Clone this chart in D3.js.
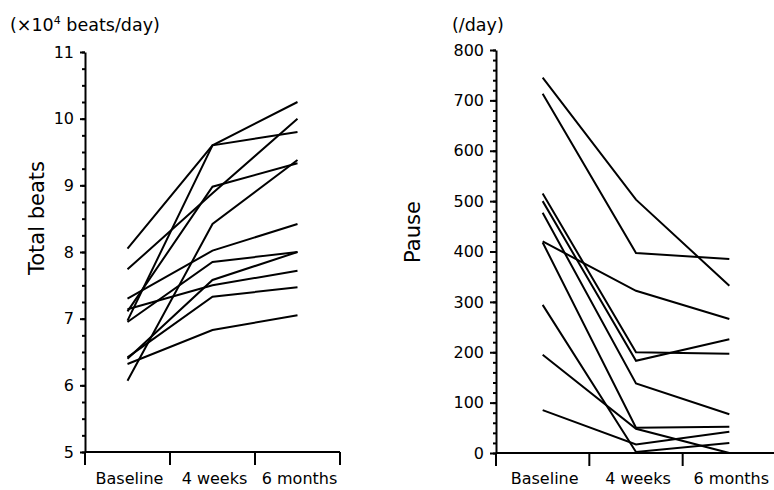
<!DOCTYPE html>
<html>
<head>
<meta charset="utf-8">
<script src="https://cdn.jsdelivr.net/npm/d3@7"></script>
<style>
  body { margin: 0; background: #fff; }
  svg { display: block; font-family: "DejaVu Sans", sans-serif; }
  .domain, .tick line { stroke: #000; stroke-width: 2; }
</style>
</head>
<body>
<div class="container"></div>
<script>
// time points shared by both panels
const timepoints = ["Baseline", "4 weeks", "6 months"];

// total beats (x10^4 beats/day), one entry per patient
const beatsBaseline = [6.32, 6.42, 6.40, 7.14, 6.95, 7.30, 8.05, 6.97, 7.74, 6.07, 7.11];
const beats4w = [6.83, 7.33, 7.58, 7.50, 7.85, 8.02, 9.60, 9.60, 8.88, 8.42, 8.98];
const beats6m = [7.05, 7.47, 8.00, 7.72, 8.00, 8.42, 10.25, 9.80, 10.00, 9.38, 9.33];
const beatsTicks = [5, 6, 7, 8, 9, 10, 11];

// pauses (/day), one entry per patient
const pauseBaseline = [745, 713, 420, 418, 515, 500, 477, 294, 195, 85];
const pause4w = [503, 397, 322, 50, 200, 183, 138, 2, 48, 17];
const pause6m = [332, 385, 266, 52, 197, 226, 77, 20, 0, 42];
const pauseTicks = [0, 100, 200, 300, 400, 500, 600, 700, 800];

const svg = d3.select(".container")
  .append("svg")
  .attr("width", 774)
  .attr("height", 490);

// build one panel: axes, labels and a polyline per patient
function panel(opts) {
  const x = d3.scaleBand().domain(timepoints).range(opts.xRange);
  const y = d3.scaleLinear().domain(opts.domain).range(opts.yRange);
  const y0 = opts.yRange[0];

  // minor ticks
  svg.append("g")
    .attr("transform", `translate(${opts.xRange[0]},0)`)
    .call(d3.axisLeft(y).tickValues(opts.minor).tickSize(3).tickFormat(""))
    .call((g) => g.select(".domain").remove());

  // major ticks + labels
  svg.append("g")
    .attr("transform", `translate(${opts.xRange[0]},0)`)
    .call(d3.axisLeft(y).tickValues(opts.ticks).tickFormat(d3.format("d"))
      .tickSize(opts.tickLen).tickSizeOuter(0).tickPadding(6))
    .call((g) => g.selectAll("text")
      .style("font-size", "16px")
      .style("font-family", "DejaVu Sans, sans-serif")
      .attr("fill", "#000"));

  // category axis: line along the bottom, ticks on band edges
  const edges = timepoints.map((t) => x(t)).concat([opts.xRange[1]]);
  svg.append("line")
    .attr("x1", opts.xRange[0]).attr("x2", opts.xEnd)
    .attr("y1", y0).attr("y2", y0)
    .attr("stroke", "#000").attr("stroke-width", 2);
  svg.selectAll(null)
    .data(edges)
    .enter()
    .append("line")
    .attr("x1", (d) => d).attr("x2", (d) => d)
    .attr("y1", y0).attr("y2", y0 + 13)
    .attr("stroke", "#000").attr("stroke-width", 2);

  svg.selectAll(null)
    .data(timepoints)
    .enter()
    .append("text")
    .attr("x", (d) => x(d) + x.bandwidth() / 2 + 2)
    .attr("y", 484)
    .attr("text-anchor", "middle")
    .style("font-size", "16px")
    .text((d) => d);

  // one polyline per patient
  const rows = opts.series[0].map((_, i) => opts.series.map((s) => s[i]));
  const line = d3.line()
    .x((d, j) => x(timepoints[j]) + x.bandwidth() / 2)
    .y((d) => y(d));
  svg.selectAll(null)
    .data(rows)
    .enter()
    .append("path")
    .attr("d", line)
    .attr("fill", "none")
    .attr("stroke", "#000")
    .attr("stroke-width", 2);

  // axis title and unit
  svg.append("text")
    .attr("transform", `translate(${opts.titleX},${opts.titleY}) rotate(-90)`)
    .attr("text-anchor", "middle")
    .style("font-size", "21px")
    .text(opts.title);

  const unit = svg.append("text")
    .attr("x", opts.unitX)
    .attr("y", 31)
    .style("font-size", "17.5px");
  opts.unit(unit);
}

panel({
  xRange: [85, 340],
  xEnd: 340,
  yRange: [452, 52],
  domain: [5, 11],
  ticks: beatsTicks,
  minor: d3.range(5, 11.01, 0.25),
  tickLen: 5,
  series: [beatsBaseline, beats4w, beats6m],
  title: "Total beats",
  titleX: 44,
  titleY: 218,
  unitX: 10,
  unit: (t) => {
    t.append("tspan").text("(×10");
    t.append("tspan").attr("dy", -7).style("font-size", "11px").text("4");
    t.append("tspan").attr("dy", 7).text(" beats/day)");
  },
});

panel({
  xRange: [496, 776],
  xEnd: 774,
  yRange: [453, 50],
  domain: [0, 800],
  ticks: pauseTicks,
  minor: d3.range(0, 801, 20),
  tickLen: 6,
  series: [pauseBaseline, pause4w, pause6m],
  title: "Pause",
  titleX: 420,
  titleY: 232,
  unitX: 452,
  unit: (t) => t.text("(/day)"),
});
</script>
</body>
</html>
